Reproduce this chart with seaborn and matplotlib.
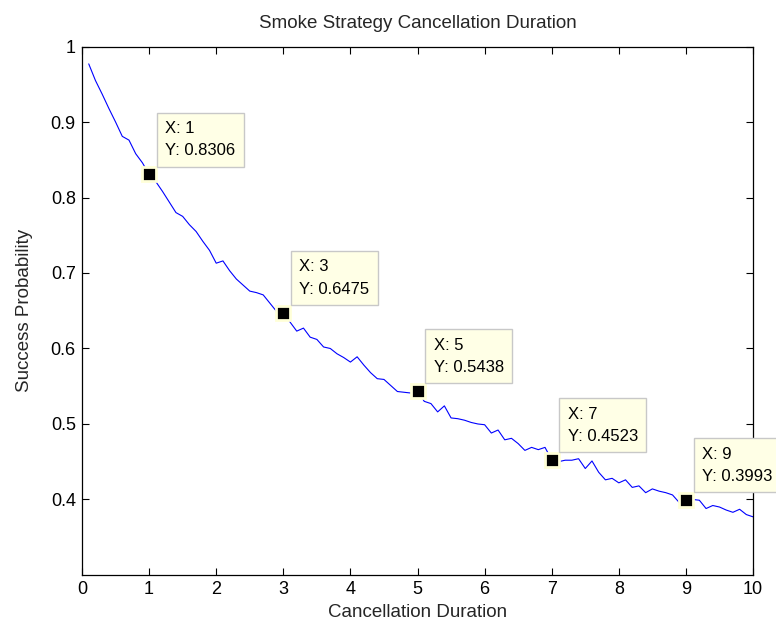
import numpy as np
import pandas as pd
import matplotlib
matplotlib.use("Agg")
import matplotlib.pyplot as plt
import seaborn as sns

# Cancellation duration grid and the measured success probability
duration = [round(0.1 * i, 1) for i in range(1, 101)]
success = [
    0.977, 0.955, 0.937, 0.918, 0.900, 0.881, 0.876, 0.858, 0.846, 0.8306,
    0.821, 0.808, 0.794, 0.780, 0.775, 0.764, 0.755, 0.742, 0.730, 0.713,
    0.716, 0.703, 0.692, 0.684, 0.676, 0.674, 0.671, 0.660, 0.649, 0.6475,
    0.635, 0.623, 0.627, 0.615, 0.612, 0.602, 0.600, 0.593, 0.588, 0.582,
    0.589, 0.578, 0.568, 0.560, 0.559, 0.551, 0.543, 0.542, 0.541, 0.5438,
    0.530, 0.527, 0.516, 0.524, 0.508, 0.507, 0.505, 0.502, 0.500, 0.499,
    0.488, 0.492, 0.479, 0.481, 0.474, 0.465, 0.469, 0.466, 0.469, 0.4523,
    0.450, 0.452, 0.452, 0.454, 0.441, 0.451, 0.436, 0.426, 0.428, 0.422,
    0.426, 0.416, 0.418, 0.409, 0.414, 0.411, 0.409, 0.406, 0.396, 0.3993,
    0.400, 0.399, 0.388, 0.392, 0.390, 0.386, 0.383, 0.387, 0.380, 0.377,
]

# Highlighted data tips
tip_x = [1, 3, 5, 7, 9]
tip_y = [0.8306, 0.6475, 0.5438, 0.4523, 0.3993]

x_ticks = list(range(0, 11))
y_ticks = [0.4, 0.5, 0.6, 0.7, 0.8, 0.9, 1.0]
y_tick_labels = ["0.4", "0.5", "0.6", "0.7", "0.8", "0.9", "1"]

sns.set_style("white")
plt.rcParams["font.family"] = ["Liberation Sans", "DejaVu Sans"]

df = pd.DataFrame({"duration": duration, "success": success})
tips = pd.DataFrame({"x": tip_x, "y": tip_y})

fig = plt.figure(figsize=(7.76, 6.27), dpi=100)
ax = fig.add_axes([0.1057, 0.0830, 0.8647, 0.8428])

sns.lineplot(data=df, x="duration", y="success", color="#0000FF",
             linewidth=0.8, ax=ax, zorder=2)

ax.plot(tips["x"], tips["y"], linestyle="none", marker="s",
        markersize=10.3, markerfacecolor="black",
        markeredgecolor="#FFFFD8", markeredgewidth=2.0, zorder=4)

for xv, yv in zip(tip_x, tip_y):
    ax.annotate(f"X: {xv}\nY: {yv:.4f}", xy=(xv, yv),
                xytext=(16, 16), textcoords="offset pixels",
                ha="left", va="bottom", fontsize=12, color="black",
                linespacing=1.6,
                bbox=dict(boxstyle="square,pad=0.5", fc="#FFFFE6",
                          ec="#C8C8C8", lw=1.0),
                zorder=5, annotation_clip=False)

ax.set_xlim(0, 10)
ax.set_ylim(0.3, 1.0)
ax.set_xticks(x_ticks)
ax.set_xticklabels([str(t) for t in x_ticks])
ax.set_yticks(y_ticks)
ax.set_yticklabels(y_tick_labels)

for side in ["top", "right", "bottom", "left"]:
    ax.spines[side].set_visible(True)
    ax.spines[side].set_color("black")
    ax.spines[side].set_linewidth(0.9)

ax.tick_params(axis="both", which="major", direction="in", length=5,
               width=0.8, color="black", labelsize=13, labelcolor="black",
               top=True, right=True, bottom=True, left=True)
ax.tick_params(axis="x", pad=4)
ax.tick_params(axis="y", pad=4.5)

ax.set_title("Smoke Strategy Cancellation Duration", fontsize=13.5, pad=13)
ax.set_xlabel("Cancellation Duration", fontsize=13.5, labelpad=5)
ax.set_ylabel("Success Probability", fontsize=13.5, labelpad=13)

fig.savefig("out.png", dpi=100, facecolor="white")
